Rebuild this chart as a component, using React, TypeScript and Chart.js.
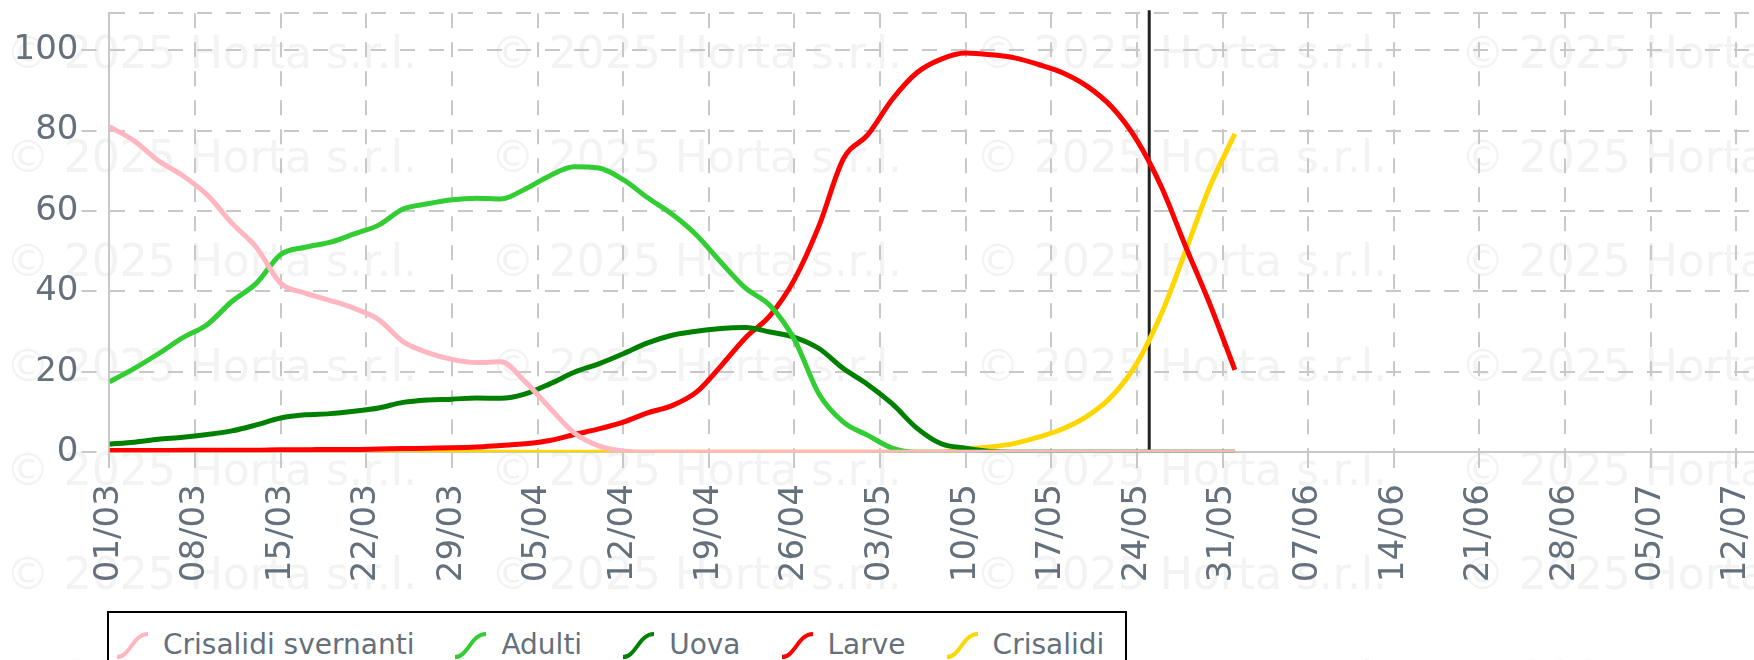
import React, { useEffect, useRef } from 'react';
import { Chart, registerables } from 'chart.js';

Chart.register(...registerables);

// Day offsets from 01/03 at which the series were read
const days = [0, 2, 4, 6, 8, 10, 12, 14, 16, 18, 20, 22, 24, 26, 28, 30, 32, 34, 36, 38, 40, 42, 44, 46,
  48, 50, 52, 54, 56, 58, 60, 62, 64, 66, 68, 70, 72, 74, 76, 78, 80, 82, 84, 86, 88, 90, 92];

const crisalidiSvernanti = [81, 77.5, 72.5, 68.8, 64, 57, 51, 42, 39.6, 37.8, 35.8, 33, 27.5, 24.8, 23.1, 22.3,
  22.5, 17.5, 11, 4.8, 1.6, 0.3, 0, 0, 0, 0, 0, 0, 0, 0, 0, 0, 0, 0, 0, 0, 0, 0, 0, 0, 0, 0, 0, 0, 0, 0, 0];

const adulti = [17.5, 20.8, 24.5, 28.5, 31.8, 37.5, 42, 49.2, 51, 52.2, 54.3, 56.5, 60.5, 61.8, 62.8, 63.2,
  63, 65.5, 68.8, 71, 70.7, 67.8, 63.3, 59.2, 54, 47.2, 40.8, 36.5, 28, 14.5, 7.5, 4.2, 1, 0,
  0, 0, 0, 0, 0, 0, 0, 0, 0, 0, 0, 0, 0];

const uova = [2, 2.5, 3.2, 3.7, 4.4, 5.3, 6.8, 8.5, 9.3, 9.6, 10.2, 11, 12.4, 13, 13.2, 13.5, 13.4, 14.5, 17,
  19.9, 22, 24.5, 27.2, 29.1, 30.1, 30.8, 31, 29.9, 28.6, 25.8, 20.8, 16.8, 12, 6, 2.1, 1, 0.2,
  0, 0, 0, 0, 0, 0, 0, 0, 0, 0];

const larve = [0.4, 0.4, 0.4, 0.5, 0.5, 0.5, 0.5, 0.6, 0.6, 0.7, 0.7, 0.8, 0.9, 1, 1.1, 1.3, 1.7, 2.1, 2.9,
  4.4, 5.8, 7.5, 9.8, 11.6, 15, 21.5, 28.5, 34, 43, 56.3, 73, 79, 87.8, 94.4, 97.8, 99.3, 98.9, 98.1,
  96.4, 94.3, 90.9, 85.7, 77.6, 66, 51, 36.5, 20.5];

const crisalidi = [0, 0, 0, 0, 0, 0, 0, 0, 0, 0, 0, 0, 0, 0, 0, 0, 0, 0, 0, 0, 0, 0, 0, 0, 0, 0, 0, 0, 0, 0,
  0, 0, 0, 0, 0, 0.8, 1.3, 2.2, 3.8, 5.9, 9.1, 14.1, 22.2, 34.5, 50.3, 66.4, 79.2];

const seriesNames = ['Crisalidi svernanti', 'Adulti', 'Uova', 'Larve', 'Crisalidi'];

const xTickLabels = ['01/03', '08/03', '15/03', '22/03', '29/03', '05/04', '12/04', '19/04', '26/04',
  '03/05', '10/05', '17/05', '24/05', '31/05', '07/06', '14/06', '21/06', '28/06', '05/07', '12/07', '19/07'];
const yTickValues = [0, 20, 40, 60, 80, 100];
const yAxisMax = 109.2;
const xAxisMax = 140;
const markerDay = 85;
const watermarkText = '\u00A9 2025 Horta s.r.l.';

const seriesColors = ['#ffb6c1', '#32cd32', '#008000', '#ff0000', '#ffd700'];
const TEXT_COLOR = '#64707c';
const GRID_COLOR = '#c8c8c8';
const FONT = 'DejaVu Sans';
const DASH = [15, 14];

const watermarkPlugin = {
  id: 'watermark',
  beforeDraw(chart: any) {
    const ctx = chart.ctx;
    ctx.save();
    ctx.font = `44px "${FONT}"`;
    ctx.fillStyle = '#f3f3f3';
    ctx.textBaseline = 'alphabetic';
    ctx.textAlign = 'left';
    for (let r = 0; r < 7; r++) {
      for (let c = 0; c < 4; c++) {
        ctx.fillText(watermarkText, 5.7 + 485 * c, 68 + 104.2 * r);
      }
    }
    ctx.restore();
  },
};

const markerPlugin = {
  id: 'marker',
  beforeDatasetsDraw(chart: any) {
    const { ctx, chartArea, scales } = chart;
    const x = scales.x.getPixelForValue(markerDay);
    ctx.save();
    ctx.strokeStyle = '#222222';
    ctx.lineWidth = 3;
    ctx.beginPath();
    ctx.moveTo(x, chartArea.top - 3);
    ctx.lineTo(x, chartArea.bottom - 2);
    ctx.stroke();
    ctx.restore();
  },
};

const zeroPadding = (scale: any) => {
  scale.paddingLeft = 0;
  scale.paddingRight = 0;
  scale.paddingTop = 0;
  scale.paddingBottom = 0;
};

function LegendIcon({ color }: { color: string }) {
  return (
    <svg width={36} height={30} viewBox="0 0 36 30" style={{ display: 'block' }}>
      <path d="M2 27 C 15 27, 18 4, 33 4" stroke={color} strokeWidth={4} fill="none" />
    </svg>
  );
}

export default function App() {
  const canvasRef = useRef<HTMLCanvasElement>(null);

  useEffect(() => {
    const seriesValues = [crisalidiSvernanti, adulti, uova, larve, crisalidi];
    const chart = new Chart(canvasRef.current as HTMLCanvasElement, {
      type: 'line',
      data: {
        datasets: seriesNames.map((name, i) => ({
          label: name,
          data: days.map((d, j) => ({ x: d, y: seriesValues[i][j] })),
          borderColor: seriesColors[i],
          backgroundColor: seriesColors[i],
          borderWidth: 5,
          pointRadius: 0,
          pointHoverRadius: 0,
          fill: false,
          cubicInterpolationMode: 'monotone' as const,
        })),
      },
      options: {
        responsive: false,
        animation: false,
        events: [],
        layout: { padding: { left: 10.6, top: 13.3, right: 58, bottom: 66.8 } },
        plugins: { legend: { display: false }, tooltip: { enabled: false } },
        scales: {
          x: {
            type: 'linear',
            min: 0,
            max: xAxisMax,
            afterFit: zeroPadding,
            grid: {
              color: GRID_COLOR,
              lineWidth: 2,
              tickLength: 21,
              tickColor: GRID_COLOR,
              tickWidth: 2,
              tickBorderDash: DASH,
            },
            border: { display: true, color: GRID_COLOR, width: 2, dash: DASH },
            ticks: {
              stepSize: 7,
              maxTicksLimit: 40,
              autoSkip: false,
              minRotation: 90,
              maxRotation: 90,
              padding: 11,
              color: TEXT_COLOR,
              font: { family: FONT, size: 34 },
              callback: (_v: any, i: number) => xTickLabels[i],
            },
          },
          y: {
            type: 'linear',
            min: 0,
            max: yAxisMax,
            afterFit: zeroPadding,
            afterBuildTicks: (scale: any) => {
              scale.ticks = [...yTickValues, yAxisMax].map((v) => ({ value: v }));
            },
            grid: {
              color: GRID_COLOR,
              lineWidth: 2,
              tickLength: 28,
              tickColor: (c: any) => (c.tick && c.tick.value === yAxisMax ? 'rgba(0,0,0,0)' : GRID_COLOR),
              tickWidth: 2,
              tickBorderDash: DASH,
            },
            border: { display: true, color: GRID_COLOR, width: 2, dash: DASH },
            ticks: {
              padding: 3,
              color: TEXT_COLOR,
              font: { family: FONT, size: 34 },
              callback: (v: any) => (yTickValues.includes(v) ? String(v) : ''),
            },
          },
        },
      },
      plugins: [watermarkPlugin, markerPlugin],
    } as any);
    return () => chart.destroy();
  }, []);

  return (
    <div
      style={{
        position: 'fixed',
        left: 0,
        top: 0,
        width: 1754,
        height: 660,
        overflow: 'hidden',
        background: '#ffffff',
      }}
    >
      <canvas
        ref={canvasRef}
        width={1880}
        height={660}
        style={{ position: 'absolute', left: 0, top: 0, width: 1880, height: 660 }}
      />
      <div
        style={{
          position: 'absolute',
          left: 107,
          top: 611,
          width: 1020,
          height: 80,
          boxSizing: 'border-box',
          border: '2px solid #000',
          background: '#ffffff',
          display: 'flex',
          alignItems: 'flex-start',
          paddingLeft: 6,
          paddingTop: 14,
        }}
      >
        {seriesNames.map((name, i) => (
          <div
            key={name}
            style={{ display: 'flex', alignItems: 'center', height: 36, marginRight: 39 }}
          >
            <LegendIcon color={seriesColors[i]} />
            <span
              style={{
                marginLeft: 12,
                fontFamily: `"${FONT}"`,
                fontSize: 28,
                color: TEXT_COLOR,
                whiteSpace: 'nowrap',
                lineHeight: '36px',
              }}
            >
              {name}
            </span>
          </div>
        ))}
      </div>
    </div>
  );
}
